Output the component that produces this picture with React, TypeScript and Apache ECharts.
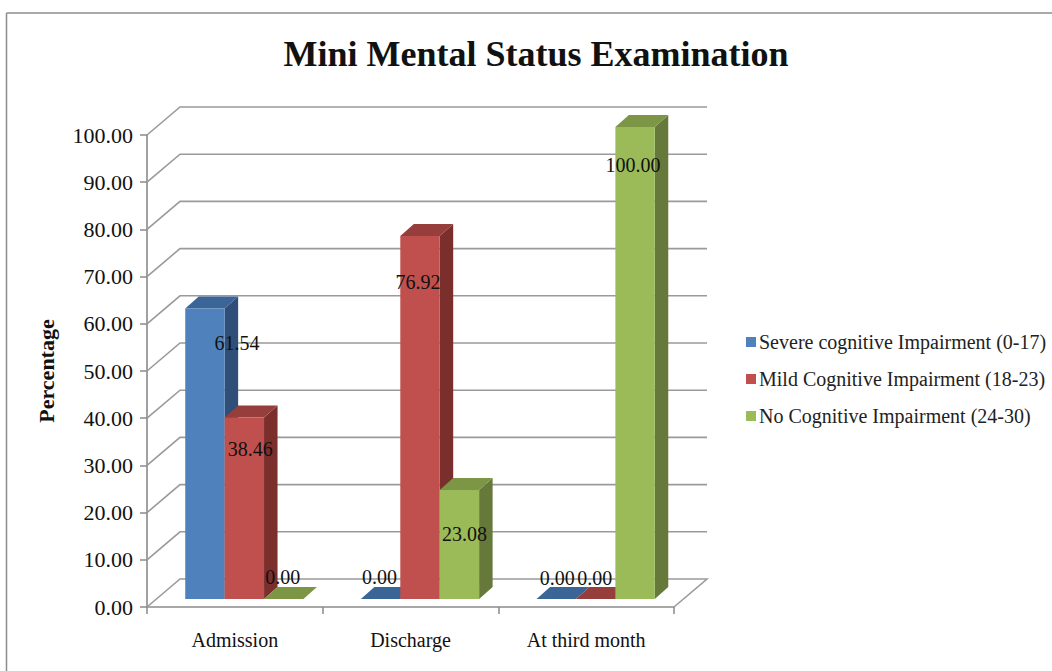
import React, { useEffect, useRef } from "react";
import * as echarts from "echarts";

const categories = ["Admission", "Discharge", "At third month"];
const severe = [61.54, 0, 0];
const mild = [38.46, 76.92, 0];
const none = [0, 23.08, 100];
const seriesNames = [
  "Severe cognitive Impairment (0-17)",
  "Mild Cognitive Impairment (18-23)",
  "No Cognitive Impairment (24-30)",
];
const gridTicks = [0, 10, 20, 30, 40, 50, 60, 70, 80, 90, 100];

const SERIF = "'Liberation Serif', 'Times New Roman', serif";
const WALL = "#9a9a9a";
const AXIS = "#8a8a8a";

// Shades per series: front, side and top faces of the prism.
const FACES = [
  { front: "#4f81bd", side: "#2f4f79", top: "#3a6596" },
  { front: "#c0504d", side: "#7a2f2d", top: "#963e3b" },
  { front: "#9bbb59", side: "#66793a", top: "#7c9646" },
];

// Oblique projection: how far the back wall sits from the front plane.
const WALL_DX = 33;
const WALL_DY = -28;
// Bars stand part-way into the floor and use this much of its depth.
const BAR_INSET_X = 9.5;
const BAR_INSET_Y = -8;
const BAR_DX = 13.5;
const BAR_DY = -12;
const BAR_WIDTH = 39.4;

// Hand-placed label offsets [dx, dy] from the front-top centre of each bar.
const LABEL_NUDGE = [
  [[32, 34], [6, 32], [-1, -22]],
  [[-1, -22], [-2, 46], [5, 44]],
  [[1, -21], [-1, -21], [-2, 38]],
];

const barGeometry = (api: any, seriesIdx: number) => {
  const cat = api.value(0);
  const val = api.value(1);
  const [cx, vy] = api.coord([cat, val]);
  const left = cx - 1.5 * BAR_WIDTH + seriesIdx * BAR_WIDTH + BAR_INSET_X;
  return { left, right: left + BAR_WIDTH, top: vy + BAR_INSET_Y, base: api.coord([cat, 0])[1] + BAR_INSET_Y };
};

const barSeries = (values: number[], seriesIdx: number, name: string) => ({
  type: "custom",
  name,
  coordinateSystem: "cartesian2d",
  itemStyle: { color: FACES[seriesIdx].front },
  z: 3,
  encode: { x: 0, y: 1 },
  data: values.map((v, i) => [i, v]),
  renderItem: (_: any, api: any) => {
    const { left, right, top, base } = barGeometry(api, seriesIdx);
    const f = FACES[seriesIdx];
    const children: any[] = [
      {
        type: "polygon",
        shape: { points: [[right, top], [right + BAR_DX, top + BAR_DY], [right + BAR_DX, base + BAR_DY], [right, base]] },
        style: { fill: f.side },
      },
      {
        type: "polygon",
        shape: { points: [[left, top], [left + BAR_DX, top + BAR_DY], [right + BAR_DX, top + BAR_DY], [right, top]] },
        style: { fill: f.top },
      },
    ];
    if (base - top > 0.5) {
      children.push({
        type: "rect",
        shape: { x: left, y: top, width: BAR_WIDTH, height: base - top },
        style: { fill: f.front },
      });
    }
    return { type: "group", children };
  },
});

const labelSeries = (values: number[], seriesIdx: number) => ({
  type: "custom",
  coordinateSystem: "cartesian2d",
  z: 5,
  encode: { x: 0, y: 1 },
  data: values.map((v, i) => [i, v]),
  renderItem: (_: any, api: any) => {
    const { left, top } = barGeometry(api, seriesIdx);
    const [dx, dy] = LABEL_NUDGE[api.value(0)][seriesIdx];
    return {
      type: "text",
      x: left + BAR_WIDTH / 2 + dx,
      y: top + dy,
      style: {
        text: api.value(1).toFixed(2),
        font: `20px ${SERIF}`,
        fill: "#111",
        align: "center",
        verticalAlign: "middle",
      },
    };
  },
});

// Back wall, side wall and floor edges, drawn at each value tick.
const wallSeries = {
  type: "custom",
  coordinateSystem: "cartesian2d",
  z: 1,
  encode: { y: 0 },
  data: gridTicks.map((t) => [t]),
  renderItem: (params: any, api: any) => {
    const t = api.value(0);
    const g = params.coordSys;
    const y = api.coord([0, t])[1];
    const left = g.x;
    const right = g.x + g.width;
    const pts = [[left, y], [left + WALL_DX, y + WALL_DY], [right + WALL_DX, y + WALL_DY]];
    if (t === 0) pts.push([right, y]);
    return {
      type: "polyline",
      shape: { points: pts },
      style: { stroke: WALL, lineWidth: 1.6, fill: "none" },
    };
  },
};

export default function App() {
  const ref = useRef<HTMLDivElement>(null);

  useEffect(() => {
    document.body.style.margin = "0";
    const chart = echarts.init(ref.current!, undefined, { renderer: "svg" });
    chart.setOption({
      animation: false,
      backgroundColor: "#fff",
      title: {
        text: "Mini Mental Status Examination",
        left: 531,
        top: 31,
        textAlign: "center",
        textStyle: { fontFamily: SERIF, fontWeight: "bold", fontSize: 36, color: "#111" },
      },
      grid: { left: 147, top: 135, width: 527, height: 472 },
      xAxis: {
        type: "category",
        data: categories,
        axisLine: { lineStyle: { color: "#a8a8a8", width: 2 } },
        axisTick: { show: true, length: 7, lineStyle: { color: AXIS, width: 1.5 } },
        axisLabel: { margin: 23, color: "#111", fontFamily: SERIF, fontSize: 20 },
        splitLine: { show: false },
      },
      yAxis: {
        type: "value",
        min: 0,
        max: 100,
        interval: 10,
        name: "Percentage",
        nameLocation: "middle",
        nameGap: 90,
        nameRotate: 90,
        nameTextStyle: { fontFamily: SERIF, fontWeight: "bold", fontSize: 22, color: "#111" },
        axisLine: { show: true, lineStyle: { color: AXIS, width: 1.6 } },
        axisTick: { show: true, length: 7, lineStyle: { color: AXIS, width: 1.5 } },
        axisLabel: {
          margin: 14,
          color: "#111",
          fontFamily: SERIF,
          fontSize: 22,
          formatter: (v: number) => v.toFixed(2),
        },
        splitLine: { show: false },
      },
      legend: {
        orient: "vertical",
        left: 741,
        top: 327,
        itemWidth: 10,
        itemHeight: 10,
        itemGap: 17,
        icon: "rect",
        data: seriesNames,
        selectedMode: false,
        textStyle: { fontFamily: SERIF, fontSize: 20, color: "#222", padding: [0, 0, 0, -2] },
      },
      graphic: [
        { type: "line", shape: { x1: 6.5, y1: 13, x2: 1052, y2: 13 }, style: { stroke: "#8c8c8c", lineWidth: 1.5 } },
        { type: "line", shape: { x1: 6.5, y1: 13, x2: 6.5, y2: 671 }, style: { stroke: "#8c8c8c", lineWidth: 1.5 } },
      ],
      series: [
        wallSeries,
        barSeries(severe, 0, seriesNames[0]),
        barSeries(mild, 1, seriesNames[1]),
        barSeries(none, 2, seriesNames[2]),
        labelSeries(severe, 0),
        labelSeries(mild, 1),
        labelSeries(none, 2),
      ],
    });
    return () => chart.dispose();
  }, []);

  return <div ref={ref} style={{ width: 1052, height: 671 }} />;
}
